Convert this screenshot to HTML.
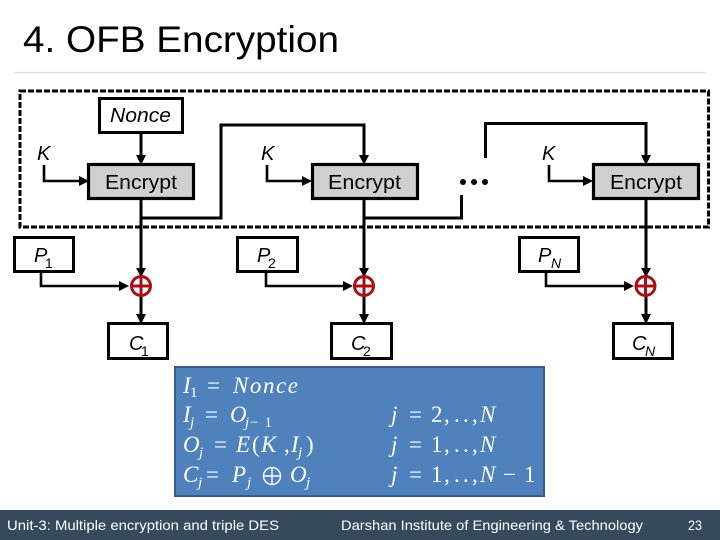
<!DOCTYPE html>
<html><head><meta charset="utf-8">
<style>
html,body{margin:0;padding:0;background:#fff;width:720px;height:540px;overflow:hidden}
svg{display:block}
text{font-family:"Liberation Sans",sans-serif;fill:#000}
.i{font-style:italic;font-size:20px}
.s{font-size:14px}
.m{font-family:"Liberation Serif",serif;font-size:23px;fill:#fff;font-style:italic}
.mr{font-family:"Liberation Serif",serif;font-size:23px;fill:#fff}
.ms{font-family:"Liberation Serif",serif;font-size:15px;fill:#fff;font-style:italic}
.msr{font-family:"Liberation Serif",serif;font-size:15px;fill:#fff}
.f{font-size:14px;fill:#fff}
.b{fill:#fff;stroke:#000;stroke-width:3}
.e{fill:#d0d0d0;stroke:#000;stroke-width:3.2}
.l{fill:none;stroke:#000;stroke-width:2.6}
.lt{fill:none;stroke:#000;stroke-width:3}
.a{fill:#000}
.x{fill:none;stroke:#a80f14;stroke-width:3}
</style></head>
<body>
<svg width="720" height="540" viewBox="0 0 720 540" xmlns="http://www.w3.org/2000/svg">
<rect width="720" height="540" fill="#fff"/>
<text x="23" y="52" font-size="37" textLength="316" lengthAdjust="spacingAndGlyphs">4. OFB Encryption</text>
<line x1="15" y1="72.5" x2="705" y2="72.5" stroke="#dcdcdc" stroke-width="1.2"/>

<rect x="20" y="91" width="688.5" height="136" fill="none" stroke="#000" stroke-width="3" stroke-dasharray="6 2"/>

<!-- connectors -->
<path class="lt" d="M141 132V156"/>
<path class="lt" d="M141 198V277"/>
<path class="lt" d="M141 296V315"/>
<path class="lt" d="M364 198V277"/>
<path class="lt" d="M364 296V315"/>
<path class="lt" d="M646 198V277"/>
<path class="lt" d="M646 296V315"/>
<path class="lt" d="M141 218H221V125H364V156"/>
<path class="lt" d="M364 218H461.500V195"/>
<path class="lt" d="M485.500 158V123.500H646V156"/>
<path class="l" d="M44 165V181H80"/>
<path class="l" d="M267 165V181H303"/>
<path class="l" d="M549 165V181H584"/>
<path class="l" d="M41 272V286H122"/>
<path class="l" d="M266 272V286H346"/>
<path class="l" d="M546 272V286H626"/>

<!-- arrowheads -->
<path class="a" d="M136 155H146L141 165Z"/>
<path class="a" d="M359 155H369L364 165Z"/>
<path class="a" d="M641 155H651L646 165Z"/>
<path class="a" d="M136 268H146L141 277Z"/>
<path class="a" d="M359 268H369L364 277Z"/>
<path class="a" d="M641 268H651L646 277Z"/>
<path class="a" d="M136 314H146L141 324Z"/>
<path class="a" d="M359 314H369L364 324Z"/>
<path class="a" d="M641 314H651L646 324Z"/>
<path class="a" d="M79 176V186L89 181Z"/>
<path class="a" d="M302 176V186L312 181Z"/>
<path class="a" d="M583 176V186L593 181Z"/>
<path class="a" d="M119 281V291L129 286Z"/>
<path class="a" d="M343 281V291L353 286Z"/>
<path class="a" d="M624 281V291L634 286Z"/>

<!-- boxes -->
<rect class="b" x="99.500" y="98.500" width="83" height="34"/>
<text class="i" x="110" y="122" textLength="61" lengthAdjust="spacingAndGlyphs">Nonce</text>
<rect class="e" x="88.500" y="164.500" width="105" height="34"/>
<rect class="e" x="312.500" y="164.500" width="105" height="34"/>
<rect class="e" x="593.500" y="164.500" width="105" height="34"/>
<text x="105" y="189" font-size="20" textLength="72" lengthAdjust="spacingAndGlyphs">Encrypt</text>
<text x="328" y="189" font-size="20" textLength="73" lengthAdjust="spacingAndGlyphs">Encrypt</text>
<text x="610" y="189" font-size="20" textLength="72" lengthAdjust="spacingAndGlyphs">Encrypt</text>

<text class="i" x="37" y="160">K</text>
<text class="i" x="261" y="160">K</text>
<text class="i" x="542" y="160">K</text>

<circle class="a" cx="463" cy="182" r="3"/>
<circle class="a" cx="474" cy="182" r="3"/>
<circle class="a" cx="485" cy="182" r="3"/>

<rect class="b" x="14.500" y="237.500" width="59" height="34"/>
<rect class="b" x="237.500" y="237.500" width="60" height="34"/>
<rect class="b" x="519.500" y="237.500" width="59" height="34"/>
<text class="i" x="34" y="262">P</text><text class="s" x="45" y="268">1</text>
<text class="i" x="257" y="262">P</text><text class="s" x="268" y="268">2</text>
<text class="i" x="538" y="262">P</text><text class="s" x="551" y="268" font-style="italic">N</text>

<rect class="b" x="108.500" y="323.500" width="59" height="35"/>
<rect class="b" x="331.500" y="323.500" width="60" height="35"/>
<rect class="b" x="613.500" y="323.500" width="59" height="35"/>
<text class="i" x="129" y="350">C</text><text class="s" x="141" y="356">1</text>
<text class="i" x="351" y="350">C</text><text class="s" x="363" y="356">2</text>
<text class="i" x="632" y="350">C</text><text class="s" x="645" y="356" font-style="italic">N</text>

<!-- xor -->
<g><circle class="x" cx="141" cy="286" r="9.500"/><path class="x" d="M131 286H151M141 276V296"/></g>
<g><circle class="x" cx="364" cy="286" r="9.500"/><path class="x" d="M354 286H374M364 276V296"/></g>
<g><circle class="x" cx="645.500" cy="286" r="9.500"/><path class="x" d="M635.500 286H655.500M645.500 276V296"/></g>

<!-- formula box -->
<rect x="175" y="367" width="369" height="129" fill="#4f81bd" stroke="#385d8a" stroke-width="2"/>
<text class="m" x="183" y="393">I</text><text class="msr" x="190" y="397">1</text>
<text class="mr" x="207" y="393">=</text>
<text class="m" x="233" y="393" textLength="65" lengthAdjust="spacing">Nonce</text>

<text class="m" x="183" y="422">I</text><text class="ms" x="190" y="427">j</text>
<text class="mr" x="205" y="422">=</text>
<text class="m" x="230" y="422">O</text><text class="ms" x="245" y="427">j</text><text class="msr" x="250" y="427" textLength="22">−1</text>

<text class="m" x="183" y="452">O</text><text class="ms" x="199" y="457">j</text>
<text class="mr" x="214" y="452">=</text>
<text class="m" x="236" y="452">E</text><text class="mr" x="252" y="452">(</text>
<text class="m" x="261" y="452">K</text><text class="mr" x="284" y="452">,</text>
<text class="m" x="291" y="452">I</text><text class="ms" x="298" y="457">j</text><text class="mr" x="306" y="452">)</text>

<text class="m" x="183" y="482">C</text><text class="ms" x="198" y="487">j</text>
<text class="mr" x="206" y="482">=</text>
<text class="m" x="232" y="482">P</text><text class="ms" x="247" y="487">j</text>
<g fill="none" stroke="#fff" stroke-width="1.400"><circle cx="272" cy="476" r="8.500"/><path d="M263.500 476H280.500M272 467.500V484.500"/></g>
<text class="m" x="290" y="482">O</text><text class="ms" x="306" y="487">j</text>

<text class="m" x="391" y="422">j</text><text class="mr" x="409" y="422">=</text><text class="mr" x="431" y="422">2</text><text class="mr" x="444" y="422">,</text><text class="mr" x="454" y="422">.</text><text class="mr" x="463" y="422">.</text><text class="mr" x="472" y="422">,</text><text class="m" x="480" y="422">N</text>
<text class="m" x="391" y="452">j</text><text class="mr" x="409" y="452">=</text><text class="mr" x="431" y="452">1</text><text class="mr" x="444" y="452">,</text><text class="mr" x="454" y="452">.</text><text class="mr" x="463" y="452">.</text><text class="mr" x="472" y="452">,</text><text class="m" x="480" y="452">N</text>
<text class="m" x="391" y="482">j</text><text class="mr" x="409" y="482">=</text><text class="mr" x="431" y="482">1</text><text class="mr" x="444" y="482">,</text><text class="mr" x="454" y="482">.</text><text class="mr" x="463" y="482">.</text><text class="mr" x="472" y="482">,</text><text class="m" x="480" y="482">N</text><text class="mr" x="503" y="482">−</text><text class="mr" x="524" y="482">1</text>

<!-- footer -->
<rect x="0" y="510" width="720" height="30" fill="#364a5e"/>
<text class="f" x="7" y="530" textLength="272" lengthAdjust="spacingAndGlyphs">Unit-3: Multiple encryption and triple DES</text>
<text class="f" x="341" y="530" textLength="302" lengthAdjust="spacingAndGlyphs">Darshan Institute of Engineering &amp; Technology</text>
<text class="f" x="688" y="530" textLength="14" lengthAdjust="spacingAndGlyphs">23</text>
</svg>
</body></html>
